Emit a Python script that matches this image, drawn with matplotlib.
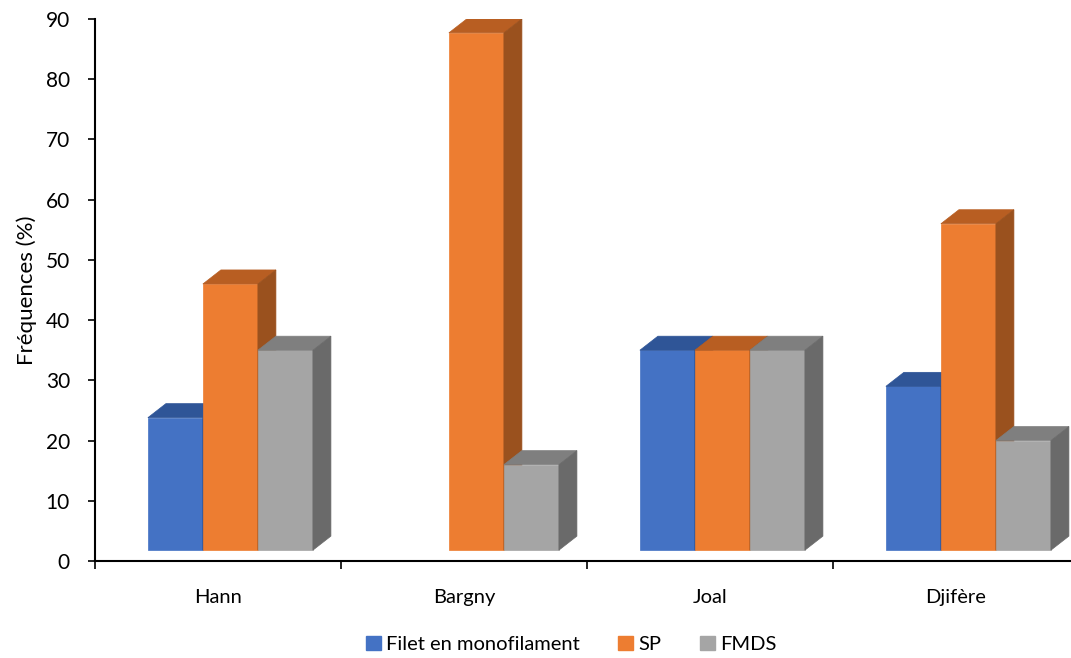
import matplotlib.pyplot as plt
from matplotlib.patches import Polygon, Patch

plt.rcParams['font.family'] = ['Lato', 'DejaVu Sans']

categories = ['Hann', 'Bargny', 'Joal', 'Djifère']
series = ['Filet en monofilament', 'SP', 'FMDS']
filet = [23.8, 0, 35, 29]
sp = [46, 87.7, 35, 56]
fmds = [35, 16, 35, 20]

front = ['#4472C4', '#ED7D31', '#A5A5A5']
top = ['#2F5597', '#B85E22', '#7F7F7F']
side = ['#2A4A85', '#9A511E', '#6A6A6A']

fig = plt.figure(figsize=(10.71, 6.58), dpi=100)
ax = fig.add_axes([95 / 1071, 1 - 561 / 658, 984 / 1071, 542 / 658])
ax.set_xlim(-0.5, 3.5)
ax.set_ylim(0, 90)

width = 0.2236
start = -0.285
dx, dy = 0.0732, 2.33   # depth of the 3D effect
floor = 1.8

for i in range(len(categories)):
    for j, vals in enumerate([filet, sp, fmds]):
        v = vals[i]
        if v <= 0:
            continue
        x0 = i + start + j * width
        x1 = x0 + width
        ax.bar(x0, v - floor, width=width, bottom=floor, align='edge',
               color=front[j], edgecolor=front[j], linewidth=0.5, zorder=3)
        ax.add_patch(Polygon([(x0, v), (x0 + dx, v + dy), (x1 + dx, v + dy), (x1, v)],
                             closed=True, facecolor=top[j], edgecolor=top[j],
                             linewidth=0.5, zorder=3))
        ax.add_patch(Polygon([(x1, floor), (x1, v), (x1 + dx, v + dy), (x1 + dx, floor + dy)],
                             closed=True, facecolor=side[j], edgecolor=side[j],
                             linewidth=0.5, zorder=3))

ax.set_yticks(range(0, 91, 10))
ax.set_xticks(range(len(categories)))
ax.set_xticklabels(categories)
ax.set_xticks([-0.5, 0.5, 1.5, 2.5], minor=True)
ax.tick_params(axis='x', which='major', length=0, pad=20, labelsize=14.5)
ax.tick_params(axis='x', which='minor', length=6, width=1.2, direction='out')
ax.tick_params(axis='y', length=5, width=1.2, pad=13, labelsize=15)
for s in ['top', 'right']:
    ax.spines[s].set_visible(False)
for s in ['left', 'bottom']:
    ax.spines[s].set_linewidth(1.5)
ax.set_ylabel('Fréquences (%)', fontsize=16, labelpad=6)

handles = [Patch(facecolor=c, edgecolor=c) for c in front]
fig.legend(handles, series, loc='lower center', bbox_to_anchor=(571 / 1071, -0.02),
           ncol=3, frameon=False, fontsize=14.5, handlelength=0.75, handleheight=0.75,
           handletextpad=0.25, columnspacing=1.9)

fig.savefig('out.png', dpi=100)
